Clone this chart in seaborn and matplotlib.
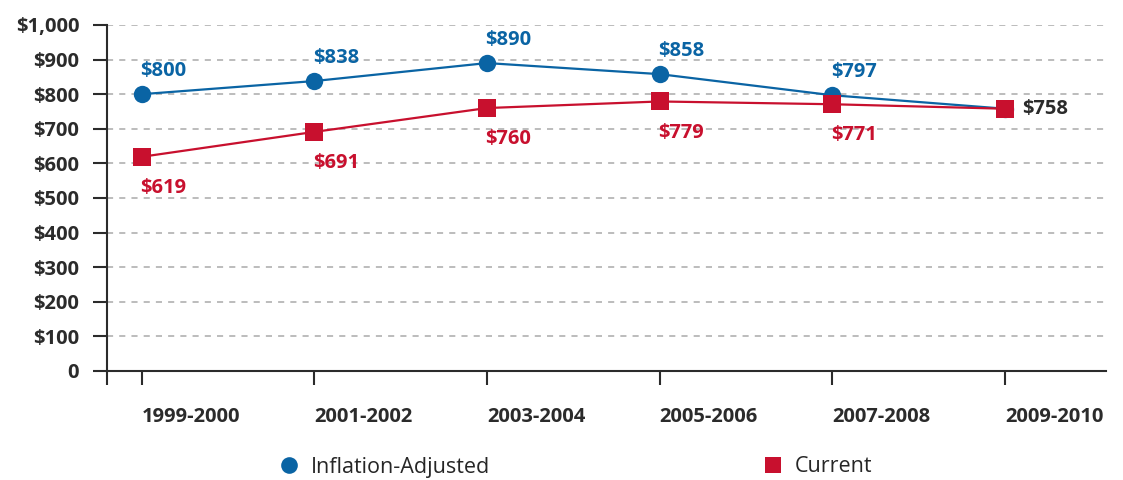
import matplotlib
matplotlib.use("Agg")
import matplotlib.pyplot as plt
import seaborn as sns
import pandas as pd
from matplotlib.lines import Line2D

years = ["1999-2000", "2001-2002", "2003-2004", "2005-2006", "2007-2008", "2009-2010"]
inflation_adjusted = [800, 838, 890, 858, 797, 758]
current = [619, 691, 760, 779, 771, 758]
ytick_vals = [0, 100, 200, 300, 400, 500, 600, 700, 800, 900, 1000]
ytick_labels = ["0", "$100", "$200", "$300", "$400", "$500", "$600", "$700", "$800", "$900", "$1,000"]

BLUE = "#0A64A4"
RED = "#C8102E"
DARK = "#2B2B2B"

sns.set_theme(style="white")
plt.rcParams["font.family"] = ["Open Sans", "DejaVu Sans"]

fig = plt.figure(figsize=(11.23, 4.8), dpi=100)
ax = fig.add_axes([107 / 1123, 109 / 480, (1106 - 107) / 1123, (371 - 25) / 480])

x = list(range(len(years)))
df_a = pd.DataFrame({"x": x, "v": inflation_adjusted})
df_c = pd.DataFrame({"x": x, "v": current})

sns.lineplot(data=df_a, x="x", y="v", ax=ax, color=BLUE, lw=1.6, marker="o",
             markersize=12.5, markeredgewidth=0, markerfacecolor=BLUE, zorder=3)
sns.lineplot(data=df_c, x="x", y="v", ax=ax, color=RED, lw=1.6, marker="s",
             markersize=13, markeredgewidth=0, markerfacecolor=RED, zorder=4)

LBL = 14.5
for i, v in enumerate(inflation_adjusted[:-1]):
    ax.annotate(f"${v}", (i, v), xytext=(-1, 16.5), textcoords="offset points",
                ha="left", va="center", color=BLUE, fontsize=LBL, fontweight="bold")
for i, v in enumerate(current[:-1]):
    ax.annotate(f"${v}", (i, v), xytext=(-1, -22.5), textcoords="offset points",
                ha="left", va="center", color=RED, fontsize=LBL, fontweight="bold")
ax.annotate(f"${current[-1]}", (len(years) - 1, current[-1]), xytext=(12, 0),
            textcoords="offset points", ha="left", va="center", color=DARK,
            fontsize=LBL, fontweight="bold")

ax.set_xlim(-0.2, 5.585)
ax.set_ylim(0, 1000)
ax.set_yticks(ytick_vals)
ax.set_yticklabels(ytick_labels)
ax.set_xticks(x)
ax.set_xticklabels(years, ha="left")
ax.set_xticks([-0.2], minor=True)
ax.set_xlabel("")
ax.set_ylabel("")

for t in ax.get_yticklabels() + ax.get_xticklabels():
    t.set_fontweight("bold")
    t.set_fontsize(14.5)
    t.set_color(DARK)

ax.tick_params(axis="y", which="major", direction="out", length=10, width=1.5,
               color=DARK, pad=10, left=True)
ax.tick_params(axis="x", which="both", direction="out", length=10, width=1.5,
               color=DARK, pad=16, bottom=True)
ax.tick_params(axis="x", which="minor", labelbottom=False)

ax.yaxis.grid(True, linestyle=(0, (4, 4)), color="#AAAAAA", lw=1.1)
ax.xaxis.grid(False)
ax.set_axisbelow(True)

for s in ["top", "right"]:
    ax.spines[s].set_visible(False)
for s in ["left", "bottom"]:
    ax.spines[s].set_color(DARK)
    ax.spines[s].set_linewidth(1.5)

handles = [
    Line2D([], [], marker="o", linestyle="none", markersize=12, color=BLUE, markeredgewidth=0),
    Line2D([], [], marker="s", linestyle="none", markersize=12, color=RED, markeredgewidth=0),
]
fig.legend(handles, ["Inflation-Adjusted", "Current"], loc="center left",
           bbox_to_anchor=(278 / 1123, 1 - 467 / 480), ncol=2, frameon=False,
           fontsize=15.5, columnspacing=12.6, handletextpad=0.55, handlelength=1.0,
           borderaxespad=0, borderpad=0)

fig.savefig("out.png", dpi=100)
